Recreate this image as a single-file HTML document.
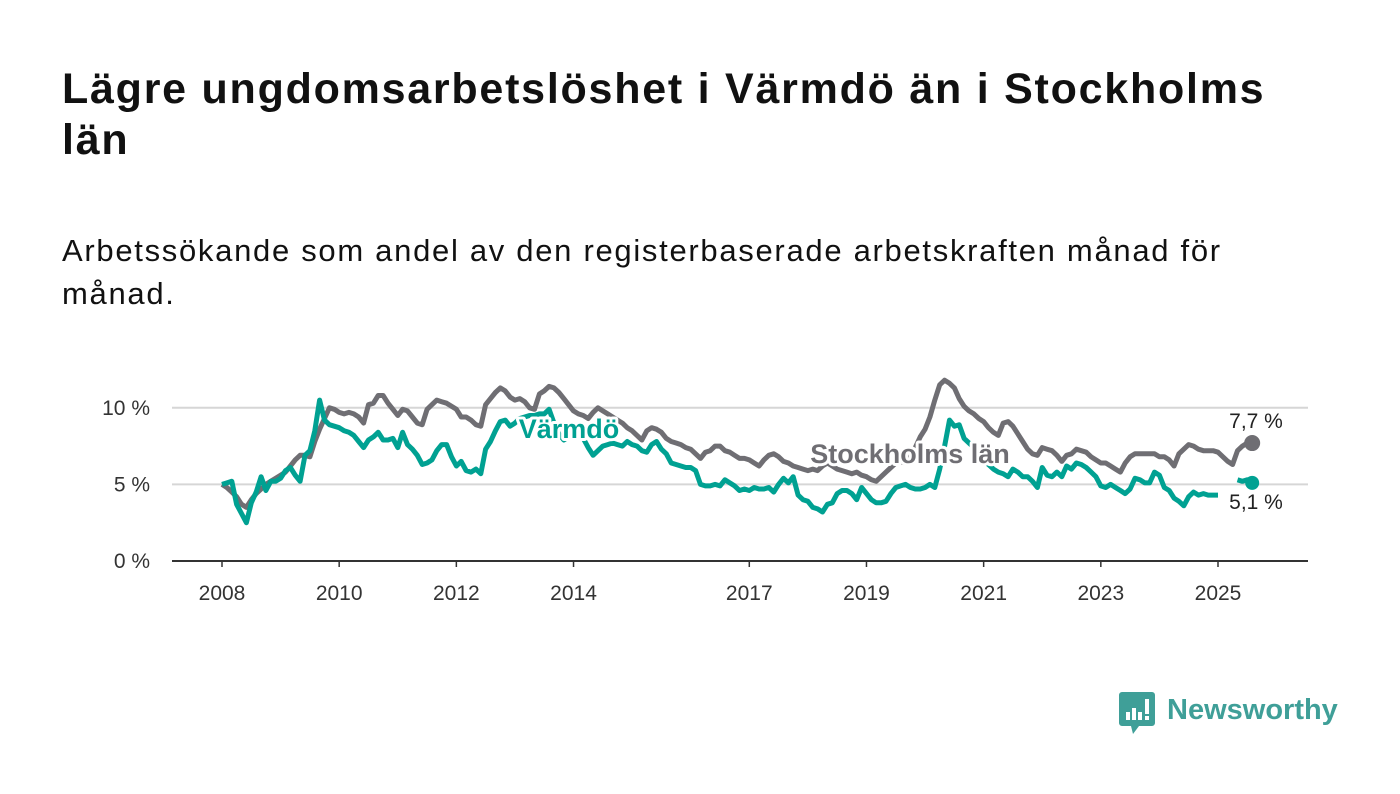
<!DOCTYPE html>
<html><head><meta charset="utf-8">
<style>
body{margin:0;width:1400px;height:794px;background:#fff;overflow:hidden;font-family:"Liberation Sans",sans-serif;position:relative}
h1{position:absolute;left:62px;top:64px;margin:0;font-size:43px;line-height:51px;letter-spacing:1.75px;font-weight:bold;color:#111;width:1260px}
p.sub{position:absolute;left:62px;top:229px;margin:0;font-size:31px;line-height:43px;letter-spacing:1.7px;color:#111;width:1200px}
svg{position:absolute;left:0;top:0}
</style></head><body>
<h1>Lägre ungdomsarbetslöshet i Värmdö än i Stockholms län</h1>
<p class="sub">Arbetssökande som andel av den registerbaserade arbetskraften månad för månad.</p>
<svg width="1400" height="794">
<g id="grid"></g>
<g id="yt"></g>
<g id="xt"></g>
<g id="lines"></g>
<g id="labels"></g>
<g>
<path d="M1122 692h30a3 3 0 0 1 3 3v28a3 3 0 0 1-3 3h-13l-6 8-2-8h-9a3 3 0 0 1-3-3v-28a3 3 0 0 1 3-3z" fill="#3f9f98"/>
<rect x="1126" y="712" width="4" height="8" fill="#fff"/><rect x="1132" y="708" width="4" height="12" fill="#fff"/><rect x="1138" y="712" width="4" height="8" fill="#fff"/><rect x="1145" y="699" width="4" height="15" fill="#fff"/><rect x="1145" y="716" width="4" height="4" fill="#fff"/>
<text x="1167" y="719" font-size="29" font-weight="bold" fill="#3f9f98" font-family="Liberation Sans, sans-serif">Newsworthy</text>
</g>
</svg>
<script>
const yTicks=[0,5,10];
const yTickLabels=["0 %","5 %","10 %"];
const xTickYears=[2008,2010,2012,2014,2017,2019,2021,2023,2025];
const stockholm=[
5.0,4.8,4.5,4.2,3.7,3.5,4.0,4.4,4.7,5.0,5.2,5.4,
5.6,5.8,6.2,6.6,6.9,6.9,6.8,7.8,8.6,9.3,10.0,9.9,
9.7,9.6,9.7,9.6,9.4,9.0,10.2,10.3,10.8,10.8,10.3,9.9,
9.5,9.9,9.8,9.4,9.0,8.9,9.9,10.2,10.5,10.4,10.3,10.1,
9.9,9.4,9.4,9.2,8.9,8.8,10.2,10.6,11.0,11.3,11.1,10.7,
10.5,10.6,10.4,10.0,9.9,10.9,11.1,11.4,11.3,11.0,10.6,10.2,
9.8,9.6,9.5,9.3,9.7,10.0,9.8,9.6,9.4,9.2,9.0,8.7,
8.5,8.2,7.9,8.5,8.7,8.6,8.4,8.0,7.8,7.7,7.6,7.4,
7.3,7.0,6.7,7.1,7.2,7.5,7.5,7.2,7.1,6.9,6.7,6.7,
6.6,6.4,6.2,6.6,6.9,7.0,6.8,6.5,6.4,6.2,6.1,6.0,
5.9,6.0,5.9,6.2,6.4,6.2,6.0,5.9,5.8,5.7,5.8,5.6,
5.5,5.3,5.2,5.5,5.8,6.1,6.4,6.5,6.4,6.8,7.4,8.1,
8.6,9.4,10.5,11.5,11.8,11.6,11.3,10.6,10.1,9.8,9.6,9.3,
9.1,8.7,8.4,8.2,9.0,9.1,8.8,8.3,7.8,7.3,7.0,6.9,
7.4,7.3,7.2,6.9,6.5,6.9,7.0,7.3,7.2,7.1,6.8,6.6,
6.4,6.4,6.2,6.0,5.8,6.4,6.8,7.0,7.0,7.0,7.0,7.0,
6.8,6.8,6.6,6.2,7.0,7.3,7.6,7.5,7.3,7.2,7.2,7.2,
7.1,6.8,6.5,6.3,7.2,7.5,7.7,7.7];
const varmdo=[
5.0,5.1,5.2,3.7,3.1,2.5,3.8,4.5,5.5,4.6,5.2,5.2,
5.4,5.9,6.1,5.6,5.2,6.9,7.2,8.5,10.5,9.2,8.9,8.8,
8.7,8.5,8.4,8.2,7.8,7.4,7.9,8.1,8.4,7.9,7.9,8.0,
7.4,8.4,7.6,7.3,6.9,6.3,6.4,6.6,7.2,7.6,7.6,6.8,
6.2,6.5,5.9,5.8,6.0,5.7,7.3,7.8,8.5,9.1,9.2,8.8,
9.0,9.3,9.4,9.5,9.5,9.6,9.6,9.9,9.0,8.3,7.9,8.1,
8.3,8.5,8.0,7.4,6.9,7.2,7.5,7.6,7.7,7.6,7.5,7.8,
7.6,7.5,7.2,7.1,7.6,7.8,7.3,7.0,6.4,6.3,6.2,6.1,
6.1,5.9,5.0,4.9,4.9,5.0,4.9,5.3,5.1,4.9,4.6,4.7,
4.6,4.8,4.7,4.7,4.8,4.5,5.0,5.4,5.1,5.5,4.3,4.0,
3.9,3.5,3.4,3.2,3.7,3.8,4.4,4.6,4.6,4.4,4.0,4.8,
4.4,4.0,3.8,3.8,3.9,4.4,4.8,4.9,5.0,4.8,4.7,4.7,
4.8,5.0,4.8,6.0,7.5,9.2,8.8,8.9,8.0,7.7,7.4,6.8,
6.5,6.3,6.0,5.8,5.7,5.5,6.0,5.8,5.5,5.5,5.2,4.8,
6.1,5.6,5.5,5.8,5.5,6.2,6.0,6.4,6.3,6.1,5.8,5.5,
4.9,4.8,5.0,4.8,4.6,4.4,4.7,5.4,5.3,5.1,5.1,5.8,
5.6,4.8,4.6,4.1,3.9,3.6,4.2,4.5,4.3,4.4,4.3,4.3,
4.3,null,null,null,5.3,5.2,5.3,5.1];
const NS='http://www.w3.org/2000/svg';
const xL=172,xR=1308;
function xScale(m){return 222+m*(996/204);}
function yScale(v){return 561-v*15.32;}
function mk(t,a,p){const e=document.createElementNS(NS,t);for(const k in a)e.setAttribute(k,a[k]);p.appendChild(e);return e;}
const grid=document.getElementById('grid'),yt=document.getElementById('yt'),xt=document.getElementById('xt'),lines=document.getElementById('lines'),labels=document.getElementById('labels');
yTicks.forEach((t,i)=>{
 if(t>0){const g=mk('line',{x1:xL,x2:xR,y1:yScale(t),y2:yScale(t),stroke:'#d6d6d6','stroke-width':2},grid);
 
 }
 const tx=mk('text',{x:150,y:yScale(t)+7,'text-anchor':'end','font-size':21,fill:'#333'},yt);
 tx.textContent=yTickLabels[i];
 
 
});
const ax=mk('line',{x1:xL,x2:xR,y1:561,y2:561,stroke:'#333','stroke-width':2},xt);


xTickYears.forEach(yr=>{
 const x=xScale((yr-2008)*12);
 mk('line',{x1:x,x2:x,y1:561,y2:567,stroke:'#333','stroke-width':1.5},xt);
 const tx=mk('text',{x:x,y:600,'text-anchor':'middle','font-size':21,fill:'#333'},xt);
 tx.textContent=yr;
 
 
});
function path(arr){let d='',pen=false;arr.forEach((v,i)=>{if(v==null){pen=false;return;}d+=(pen?'L':'M')+xScale(i).toFixed(1)+' '+yScale(v).toFixed(1);pen=true;});return d;}
function lastIdx(a){for(let i=a.length-1;i>=0;i--)if(a[i]!=null)return i;}
const s1=mk('path',{d:path(stockholm),fill:'none',stroke:'#6f6e73','stroke-width':5,'stroke-linejoin':'round'},lines);


const s2=mk('path',{d:path(varmdo),fill:'none',stroke:'#00a192','stroke-width':5,'stroke-linejoin':'round'},lines);


const i1=lastIdx(stockholm),i2=lastIdx(varmdo);
const d1=mk('circle',{cx:xScale(i1),cy:yScale(stockholm[i1]),r:8,fill:'#6f6e73'},lines);


const d2=mk('circle',{cx:xScale(i2),cy:yScale(varmdo[i2]),r:7,fill:'#00a192'},lines);


function lab(txt,x,y,fill,bold,size,name,anchor){
 const t=mk('text',{x:x,y:y,'text-anchor':anchor||'middle','font-size':size,'font-weight':bold?'bold':'normal',fill:fill,stroke:'#fff','stroke-width':6,'paint-order':'stroke','stroke-linejoin':'round'},labels);
 t.textContent=txt;
 
 
}
lab('Värmdö',569,438,'#00a192',true,27,'varmdo-label');
lab('Stockholms län',910,463,'#6f6e73',true,27,'stockholm-label');
lab(String(stockholm[i1]).replace('.',',')+' %',1256,428,'#222',false,21,'stockholm-end-value');
lab(String(varmdo[i2]).replace('.',',')+' %',1256,509,'#222',false,21,'varmdo-end-value');
</script>
</body></html>
